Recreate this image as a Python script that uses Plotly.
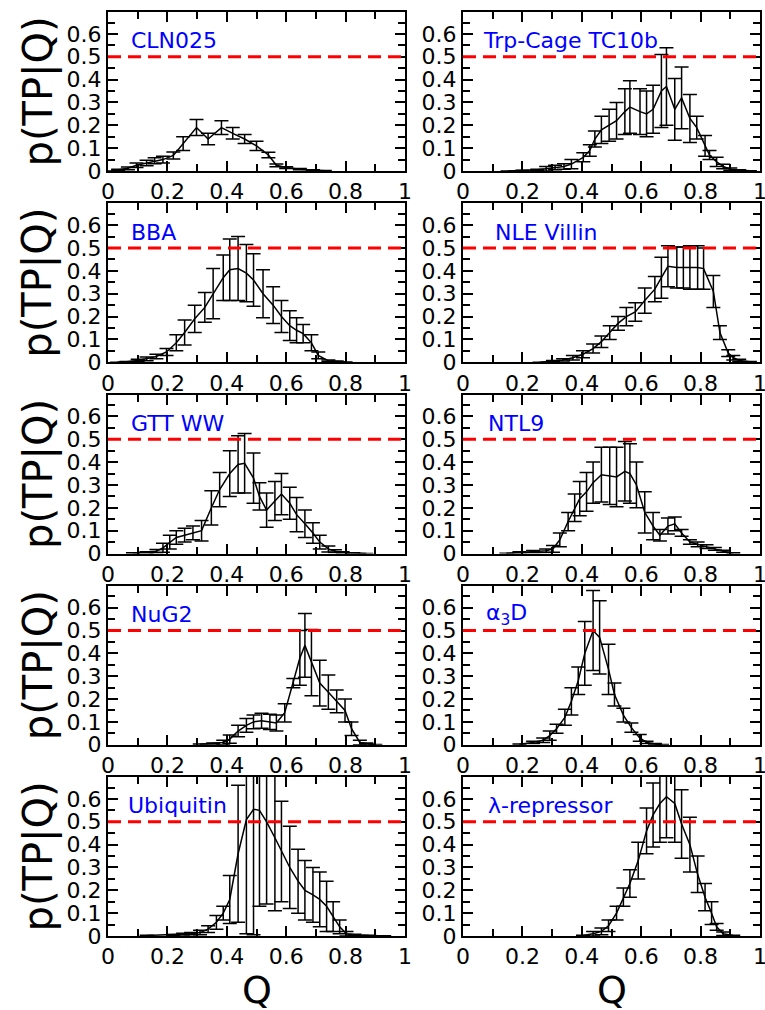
import plotly.graph_objects as go

# ---------------- data ----------------
cln_q = [0.01, 0.034, 0.067, 0.096, 0.13, 0.157, 0.185, 0.22, 0.253, 0.298, 0.337, 0.382, 0.42, 0.46, 0.5, 0.54, 0.567, 0.6, 0.646, 0.69, 0.73]
cln_p = [0.0, 0.005, 0.012, 0.025, 0.035, 0.045, 0.05, 0.068, 0.12, 0.19, 0.14, 0.19, 0.165, 0.14, 0.11, 0.07, 0.025, 0.015, 0.008, 0.003, 0.001]
cln_e = [0.0, 0.003, 0.006, 0.01, 0.012, 0.013, 0.015, 0.015, 0.03, 0.035, 0.025, 0.03, 0.025, 0.02, 0.02, 0.012, 0.006, 0.004, 0.003, 0.002, 0.001]

trp_q = [0.15, 0.2, 0.25, 0.28, 0.31, 0.34, 0.365, 0.405, 0.427, 0.444, 0.466, 0.492, 0.517, 0.545, 0.562, 0.596, 0.618, 0.64, 0.668, 0.685, 0.713, 0.736, 0.764, 0.787, 0.815, 0.83, 0.854, 0.876, 0.9, 0.93, 0.966]
trp_p = [0.0, 0.002, 0.005, 0.01, 0.015, 0.02, 0.03, 0.06, 0.09, 0.14, 0.18, 0.2, 0.22, 0.26, 0.28, 0.26, 0.25, 0.27, 0.35, 0.37, 0.27, 0.32, 0.23, 0.19, 0.11, 0.07, 0.04, 0.02, 0.008, 0.003, 0.001]
trp_e = [0.0, 0.001, 0.003, 0.01, 0.01, 0.012, 0.02, 0.02, 0.025, 0.035, 0.06, 0.07, 0.08, 0.1, 0.115, 0.1, 0.1, 0.105, 0.16, 0.17, 0.135, 0.135, 0.105, 0.05, 0.045, 0.02, 0.02, 0.01, 0.005, 0.002, 0.0]

bba_q = [0.03, 0.062, 0.1, 0.13, 0.163, 0.197, 0.23, 0.258, 0.292, 0.326, 0.354, 0.388, 0.41, 0.438, 0.466, 0.49, 0.522, 0.556, 0.584, 0.612, 0.635, 0.657, 0.685, 0.708, 0.742, 0.77, 0.8]
bba_p = [0.0, 0.002, 0.008, 0.015, 0.025, 0.045, 0.085, 0.13, 0.19, 0.24, 0.3, 0.37, 0.405, 0.41, 0.39, 0.36, 0.3, 0.25, 0.2, 0.16, 0.14, 0.125, 0.085, 0.03, 0.006, 0.003, 0.001]
bba_e = [0.0, 0.001, 0.005, 0.008, 0.01, 0.015, 0.035, 0.055, 0.06, 0.065, 0.11, 0.1, 0.135, 0.14, 0.125, 0.115, 0.105, 0.08, 0.07, 0.065, 0.055, 0.04, 0.035, 0.015, 0.004, 0.002, 0.0]

nle_q = [0.258, 0.303, 0.337, 0.37, 0.404, 0.438, 0.466, 0.494, 0.522, 0.55, 0.58, 0.612, 0.646, 0.668, 0.69, 0.72, 0.742, 0.764, 0.79, 0.81, 0.843, 0.865, 0.893, 0.91, 0.93, 0.966]
nle_p = [0.0, 0.005, 0.01, 0.02, 0.035, 0.06, 0.09, 0.13, 0.17, 0.2, 0.22, 0.27, 0.32, 0.37, 0.42, 0.415, 0.415, 0.415, 0.415, 0.41, 0.31, 0.13, 0.04, 0.02, 0.008, 0.002]
nle_e = [0.0, 0.003, 0.005, 0.01, 0.015, 0.02, 0.025, 0.03, 0.03, 0.04, 0.04, 0.055, 0.055, 0.09, 0.09, 0.09, 0.09, 0.095, 0.095, 0.09, 0.07, 0.03, 0.015, 0.01, 0.005, 0.001]

gtt_q = [0.084, 0.13, 0.163, 0.185, 0.208, 0.23, 0.258, 0.286, 0.315, 0.348, 0.376, 0.41, 0.438, 0.46, 0.49, 0.51, 0.534, 0.562, 0.584, 0.612, 0.635, 0.663, 0.69, 0.713, 0.742, 0.764, 0.79, 0.826, 0.87]
gtt_p = [0.002, 0.005, 0.01, 0.025, 0.05, 0.07, 0.08, 0.09, 0.1, 0.2, 0.28, 0.35, 0.39, 0.395, 0.33, 0.25, 0.19, 0.23, 0.26, 0.22, 0.17, 0.13, 0.09, 0.05, 0.02, 0.01, 0.005, 0.002, 0.0]
gtt_e = [0.001, 0.003, 0.007, 0.02, 0.03, 0.03, 0.03, 0.03, 0.045, 0.075, 0.075, 0.1, 0.125, 0.13, 0.11, 0.06, 0.075, 0.085, 0.09, 0.07, 0.075, 0.06, 0.045, 0.03, 0.013, 0.006, 0.003, 0.001, 0.0]

ntl_q = [0.146, 0.19, 0.236, 0.28, 0.303, 0.326, 0.354, 0.376, 0.393, 0.416, 0.438, 0.466, 0.494, 0.517, 0.545, 0.562, 0.584, 0.612, 0.64, 0.663, 0.69, 0.713, 0.736, 0.764, 0.79, 0.82, 0.848, 0.876, 0.91]
ntl_p = [0.001, 0.005, 0.008, 0.012, 0.02, 0.06, 0.14, 0.2, 0.24, 0.27, 0.31, 0.345, 0.34, 0.335, 0.36, 0.35, 0.3, 0.18, 0.12, 0.08, 0.12, 0.13, 0.09, 0.05, 0.04, 0.03, 0.02, 0.01, 0.002]
ntl_e = [0.0, 0.003, 0.005, 0.008, 0.015, 0.03, 0.04, 0.06, 0.075, 0.085, 0.09, 0.12, 0.125, 0.13, 0.13, 0.13, 0.1, 0.09, 0.06, 0.025, 0.035, 0.03, 0.015, 0.01, 0.01, 0.008, 0.006, 0.004, 0.001]

nug_q = [0.309, 0.354, 0.388, 0.41, 0.438, 0.466, 0.49, 0.517, 0.545, 0.567, 0.595, 0.624, 0.646, 0.663, 0.685, 0.713, 0.742, 0.77, 0.798, 0.82, 0.848, 0.87, 0.9]
nug_p = [0.002, 0.005, 0.01, 0.025, 0.06, 0.085, 0.1, 0.105, 0.1, 0.095, 0.14, 0.27, 0.38, 0.435, 0.36, 0.27, 0.23, 0.19, 0.15, 0.07, 0.01, 0.005, 0.001]
nug_e = [0.001, 0.003, 0.01, 0.018, 0.025, 0.03, 0.03, 0.033, 0.033, 0.035, 0.04, 0.02, 0.12, 0.14, 0.145, 0.1, 0.075, 0.05, 0.05, 0.03, 0.01, 0.003, 0.0]

a3d_q = [0.19, 0.236, 0.27, 0.292, 0.315, 0.343, 0.365, 0.388, 0.41, 0.438, 0.46, 0.49, 0.51, 0.54, 0.567, 0.595, 0.618, 0.646, 0.67]
a3d_p = [0.002, 0.01, 0.02, 0.04, 0.07, 0.12, 0.19, 0.28, 0.4, 0.5, 0.47, 0.33, 0.22, 0.13, 0.075, 0.03, 0.01, 0.003, 0.001]
a3d_e = [0.001, 0.005, 0.01, 0.02, 0.02, 0.035, 0.06, 0.06, 0.14, 0.175, 0.16, 0.11, 0.05, 0.03, 0.02, 0.015, 0.005, 0.002, 0.0]

ubq_q = [0.13, 0.22, 0.253, 0.28, 0.31, 0.337, 0.365, 0.388, 0.41, 0.438, 0.466, 0.49, 0.51, 0.534, 0.562, 0.584, 0.612, 0.64, 0.663, 0.69, 0.713, 0.736, 0.758, 0.78, 0.803, 0.83, 0.88, 0.93]
ubq_p = [0.002, 0.005, 0.008, 0.01, 0.015, 0.03, 0.06, 0.1, 0.16, 0.36, 0.51, 0.555, 0.55, 0.5, 0.43, 0.37, 0.3, 0.24, 0.2, 0.18, 0.16, 0.13, 0.085, 0.04, 0.01, 0.005, 0.002, 0.001]
ubq_e = [0.001, 0.002, 0.004, 0.005, 0.01, 0.015, 0.03, 0.03, 0.105, 0.3, 0.5, 0.55, 0.42, 0.36, 0.32, 0.22, 0.18, 0.14, 0.13, 0.12, 0.12, 0.11, 0.065, 0.03, 0.01, 0.003, 0.001, 0.0]

lam_q = [0.404, 0.438, 0.466, 0.49, 0.517, 0.54, 0.562, 0.59, 0.618, 0.64, 0.663, 0.685, 0.713, 0.736, 0.764, 0.79, 0.815, 0.837, 0.854, 0.876, 0.91]
lam_p = [0.002, 0.01, 0.02, 0.045, 0.1, 0.17, 0.23, 0.33, 0.46, 0.53, 0.58, 0.61, 0.58, 0.49, 0.4, 0.27, 0.17, 0.1, 0.04, 0.01, 0.002]
lam_e = [0.001, 0.01, 0.015, 0.025, 0.03, 0.04, 0.06, 0.08, 0.1, 0.14, 0.17, 0.18, 0.17, 0.15, 0.12, 0.08, 0.06, 0.05, 0.015, 0.008, 0.001]

labels = ["CLN025", "Trp-Cage TC10b", "BBA", "NLE Villin", "GTT WW", "NTL9",
          "NuG2", "α<sub>3</sub>D", "Ubiquitin", "λ-repressor"]
label_x = [0.07, 0.06, 0.07, 0.1, 0.07, 0.077, 0.07, 0.072, 0.06, 0.077]
THRESHOLD = 0.5
x_ticks = [0, 0.2, 0.4, 0.6, 0.8, 1]
y_ticks = [0, 0.1, 0.2, 0.3, 0.4, 0.5, 0.6]

series = [(cln_q, cln_p, cln_e), (trp_q, trp_p, trp_e), (bba_q, bba_p, bba_e), (nle_q, nle_p, nle_e),
          (gtt_q, gtt_p, gtt_e), (ntl_q, ntl_p, ntl_e), (nug_q, nug_p, nug_e), (a3d_q, a3d_p, a3d_e),
          (ubq_q, ubq_p, ubq_e), (lam_q, lam_p, lam_e)]

# ---------------- layout ----------------
W, H = 765, 1010
FONT = "DejaVu Sans"
cols = [(108, 405), (463, 760)]
row_tops = [12 + 191.25 * i for i in range(5)]
row_h = 159

fig = go.Figure()
layout = dict(width=W, height=H, margin=dict(l=0, r=0, t=0, b=0, autoexpand=False),
              paper_bgcolor="white", plot_bgcolor="white", showlegend=False,
              font=dict(family=FONT, color="black"))
annotations = []
shapes = []

for i, (q, p, e) in enumerate(series):
    r, c = divmod(i, 2)
    n = i + 1
    xa = "x" if n == 1 else f"x{n}"
    ya = "y" if n == 1 else f"y{n}"
    xk = "xaxis" if n == 1 else f"xaxis{n}"
    yk = "yaxis" if n == 1 else f"yaxis{n}"
    x0, x1 = cols[c]
    top = row_tops[r]
    bot = top + row_h
    layout[xk] = dict(domain=[x0 / W, x1 / W], anchor=ya, range=[0, 1],
                      tickvals=x_ticks, ticktext=[f"{v:g}" for v in x_ticks],
                      ticks="inside", ticklen=10, tickwidth=1.5, tickcolor="black",
                      ticklabeloverflow="allow",
                      showline=True, linewidth=2, linecolor="black", mirror="allticks",
                      showgrid=False, zeroline=False, tickfont=dict(size=22, family=FONT),
                      minor=dict(ticks="inside", dtick=0.1, tick0=0, ticklen=7, tickwidth=1.5,
                                 tickcolor="black", showgrid=False))
    layout[yk] = dict(domain=[1 - bot / H, 1 - top / H], anchor=xa, range=[0, 0.696],
                      tickvals=y_ticks, ticktext=[f"{v:g}" for v in y_ticks],
                      ticks="inside", ticklen=10, tickwidth=1.5, tickcolor="black",
                      ticklabeloverflow="allow",
                      showline=True, linewidth=2, linecolor="black", mirror="allticks",
                      showgrid=False, zeroline=False, tickfont=dict(size=22, family=FONT),
                      minor=dict(ticks="inside", dtick=0.05, tick0=0, ticklen=7, tickwidth=1.5,
                                 tickcolor="black", showgrid=False))
    fig.add_trace(go.Scatter(x=q, y=p, mode="lines", xaxis=xa, yaxis=ya,
                             line=dict(color="black", width=1.5),
                             error_y=dict(type="data", array=e, symmetric=True, color="black",
                                          thickness=1.5, width=7)))
    shapes.append(dict(type="line", xref=f"{xa} domain", yref=ya, x0=0, x1=1,
                       y0=THRESHOLD, y1=THRESHOLD,
                       line=dict(color="#ff0000", width=3, dash="13px,7px")))
    annotations.append(dict(text=labels[i], xref=xa, yref=ya, x=label_x[i], y=0.57,
                            xanchor="left", yanchor="middle", showarrow=False,
                            font=dict(size=22, color="#0000ff", family=FONT)))
    if c == 0:
        annotations.append(dict(text="p(TP|Q)", xref="paper", yref="paper",
                                x=38 / W, y=1 - (top + row_h / 2) / H, textangle=-90,
                                xanchor="center", yanchor="middle", showarrow=False,
                                font=dict(size=40, family=FONT)))

for c in range(2):
    x0, x1 = cols[c]
    annotations.append(dict(text="Q", xref="paper", yref="paper",
                            x=(x0 + x1) / 2 / W, y=1 - 990 / H,
                            xanchor="center", yanchor="middle", showarrow=False,
                            font=dict(size=38, family=FONT)))

layout["annotations"] = annotations
layout["shapes"] = shapes
fig.update_layout(**layout)
fig.write_html("out.html", config={"displayModeBar": False},
               post_script="document.body.style.margin='0';document.body.style.overflow='hidden';")
